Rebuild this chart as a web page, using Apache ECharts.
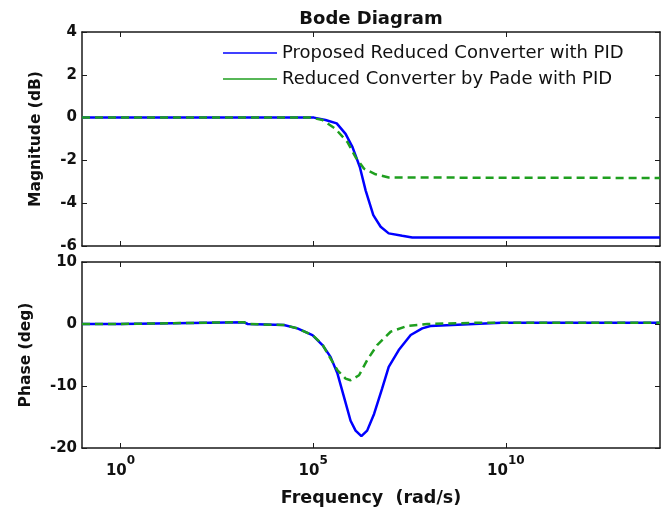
<!DOCTYPE html>
<html><head><meta charset="utf-8">
<script src="https://cdn.jsdelivr.net/npm/echarts@6/dist/echarts.min.js"></script>
<style>html,body{margin:0;padding:0;background:#fff}#c{width:668px;height:514px}</style>
</head><body><div id="c"></div>
<script>
// x values are log10 of frequency (rad/s)
const xTickExps = [0, 5, 10];
const seriesNames = ['Proposed Reduced Converter with PID', 'Reduced Converter by Pade with PID'];

const magBlueX = [-1, 5.02, 5.32, 5.61, 5.84, 6.02, 6.21, 6.36, 6.56, 6.75, 6.96, 7.31, 7.57, 14];
const magBlueY = [0, 0, -0.11, -0.27, -0.76, -1.38, -2.31, -3.40, -4.56, -5.10, -5.41, -5.52, -5.60, -5.60];

const magGreenX = [-1, 4.94, 5.24, 5.58, 5.89, 6.10, 6.32, 6.62, 6.96, 14];
const magGreenY = [0, 0, -0.11, -0.53, -1.15, -1.85, -2.39, -2.65, -2.80, -2.82];

const phBlueX = [-1, 0, 0.05, 3.2, 3.3, 4.24, 4.59, 4.98, 5.24, 5.45, 5.63, 5.80, 5.97, 6.10, 6.25, 6.40, 6.58, 6.79, 6.96, 7.22, 7.53, 7.83, 8.04, 9.88, 14];
const phBlueY = [0, 0, 0.3, 0.3, 0, -0.16, -0.7, -1.78, -3.4, -5.3, -8.0, -11.8, -15.6, -17.2, -18.1, -17.2, -14.5, -10.4, -6.9, -4.2, -1.78, -0.7, -0.32, 0.2, 0.2];

const phGreenX = [-1, 0, 0.05, 3.2, 3.3, 4.24, 4.59, 4.98, 5.24, 5.37, 5.63, 5.84, 5.97, 6.19, 6.40, 6.66, 7.01, 7.44, 7.96, 9.26, 14];
const phGreenY = [0, 0, 0.3, 0.3, 0, -0.16, -0.7, -1.78, -3.3, -4.75, -7.46, -8.8, -9.08, -8.27, -5.83, -3.4, -1.25, -0.32, 0, 0.2, 0.2];

const magTickMin = -6, magTickMax = 4, magTickStep = 2;
const phTickMin = -20, phTickMax = 10, phTickStep = 10;

const zip = (xs, ys) => xs.map((x, i) => [x, ys[i]]);
const FONT = 'DejaVu Sans';
const frame = { color: '#1a1a1a', width: 1.5 };

function xAx(grid, pos, labels) {
  const a = {
    gridIndex: grid, type: 'value', min: -1, max: 14, position: pos,
    axisLine: { show: true, onZero: false, lineStyle: frame },
    axisTick: { show: true, inside: true, length: 5, customValues: xTickExps, lineStyle: { color: '#1a1a1a', width: 1 } },
    splitLine: { show: false },
    axisLabel: { show: false }
  };
  if (labels) {
    a.axisLabel = {
      show: true, customValues: xTickExps, margin: 11,
      formatter: v => '{b|10}{s|' + v + '}',
      rich: {
        b: { fontSize: 15, fontWeight: 'bold', fontFamily: FONT, color: '#111', lineHeight: 15, padding: [9, 0, 0, 0] },
        s: { fontSize: 12, fontWeight: 'bold', fontFamily: FONT, color: '#111', lineHeight: 12, padding: [0, 0, 12, 0] }
      }
    };
    a.name = 'Frequency  (rad/s)';
    a.nameLocation = 'middle';
    a.nameGap = 41;
    a.nameTextStyle = { fontSize: 17.5, fontWeight: 'bold', fontFamily: FONT, color: '#111' };
  }
  return a;
}
function yAx(grid, pos, min, max, step, name, gap) {
  const a = {
    gridIndex: grid, type: 'value', min: min, max: max, interval: step, position: pos,
    axisLine: { show: true, onZero: false, lineStyle: frame },
    axisTick: { show: true, inside: true, length: 5, lineStyle: { color: '#1a1a1a', width: 1 } },
    splitLine: { show: false },
    axisLabel: { show: pos === 'left', margin: 5, fontSize: 15, fontWeight: 'bold', fontFamily: FONT, color: '#111' }
  };
  if (name) {
    a.name = name; a.nameLocation = 'middle'; a.nameGap = gap;
    a.nameTextStyle = { fontSize: 15.5, fontWeight: 'bold', fontFamily: FONT, color: '#111' };
  }
  return a;
}

const blue = '#0000ff', green = '#1f9f1f';
const chart = echarts.init(document.getElementById('c'), null, { renderer: 'canvas' });
chart.setOption({
  animation: false,
  backgroundColor: '#fff',
  title: {
    text: 'Bode Diagram', left: 366, top: 5, textAlign: 'center',
    textStyle: { fontSize: 18, fontWeight: 'bold', fontFamily: FONT, color: '#111' }
  },
  legend: {
    orient: 'vertical', left: 223, top: 43, padding: 0, itemGap: 6,
    icon: 'rect', itemWidth: 54, itemHeight: 1.5, align: 'left',
    textStyle: { fontSize: 18, fontFamily: FONT, color: '#111', lineHeight: 20 },
    data: seriesNames
  },
  grid: [
    { left: 82, top: 32, width: 578, height: 214 },
    { left: 82, top: 262, width: 578, height: 186 }
  ],
  xAxis: [xAx(0, 'bottom', false), xAx(0, 'top', false), xAx(1, 'bottom', true), xAx(1, 'top', false)],
  yAxis: [
    yAx(0, 'left', magTickMin, magTickMax, magTickStep, 'Magnitude (dB)', 38),
    yAx(0, 'right', magTickMin, magTickMax, magTickStep),
    yAx(1, 'left', phTickMin, phTickMax, phTickStep, 'Phase (deg)', 48),
    yAx(1, 'right', phTickMin, phTickMax, phTickStep)
  ],
  series: [
    { name: seriesNames[0], type: 'line', xAxisIndex: 0, yAxisIndex: 0, data: zip(magBlueX, magBlueY), symbol: 'none', lineStyle: { color: blue, width: 2.5 }, itemStyle: { color: blue }, z: 2 },
    { name: seriesNames[1], type: 'line', xAxisIndex: 0, yAxisIndex: 0, data: zip(magGreenX, magGreenY), symbol: 'none', lineStyle: { color: green, width: 2.5, type: [8, 5] }, itemStyle: { color: green }, z: 3 },
    { name: seriesNames[0], type: 'line', xAxisIndex: 2, yAxisIndex: 2, data: zip(phBlueX, phBlueY), symbol: 'none', lineStyle: { color: blue, width: 2.5 }, itemStyle: { color: blue }, z: 2 },
    { name: seriesNames[1], type: 'line', xAxisIndex: 2, yAxisIndex: 2, data: zip(phGreenX, phGreenY), symbol: 'none', lineStyle: { color: green, width: 2.5, type: [8, 5] }, itemStyle: { color: green }, z: 3 }
  ]
});
</script></body></html>
